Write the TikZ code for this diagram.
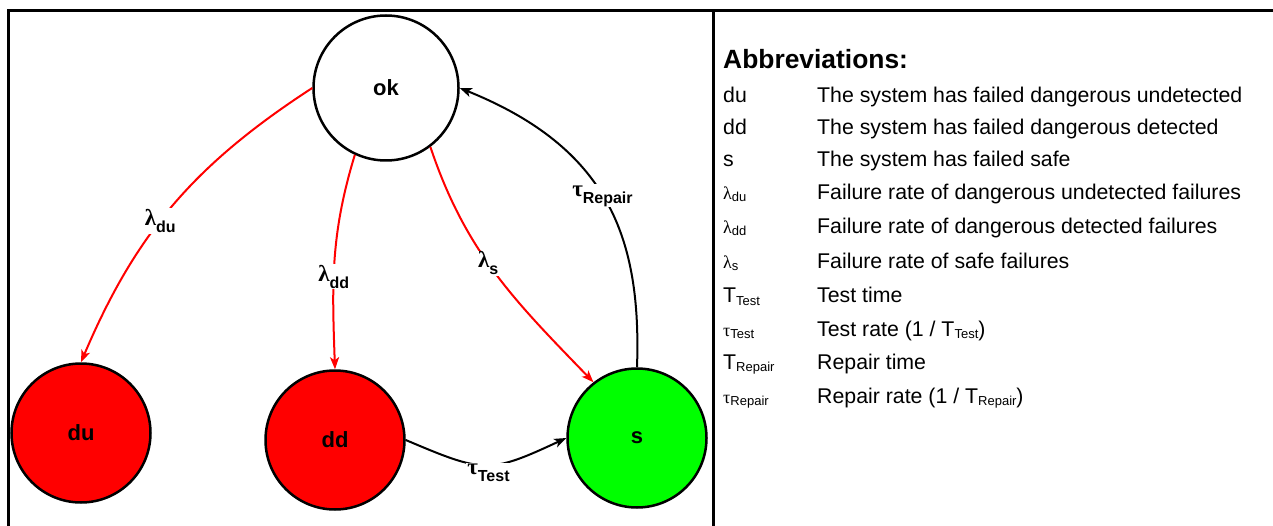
\documentclass[tikz,border=0pt]{standalone}
\usepackage{fontspec}
\setmainfont{Liberation Sans}
\newfontfamily\greekface{Liberation Serif}
\usetikzlibrary{arrows.meta}

% rate label on an arc: bold Greek letter with a bold lowered index
\newcommand\ratelbl[2]{{\fontsize{23}{23}\selectfont\greekface\bfseries #1}\raisebox{-7pt}{\fontsize{16}{16}\selectfont\bfseries #2}}
% symbol in the abbreviation list
\newcommand\gsym[2]{{\fontsize{18}{18}\selectfont\greekface #1}\raisebox{-2pt}{\fontsize{13}{13}\selectfont #2}}
\newcommand\tsym[2]{#1\raisebox{-2pt}{\fontsize{13}{13}\selectfont #2}}

\tikzset{
  frameline/.style={line width=3pt},
  state/.style={circle, draw=black, line width=2.5pt, minimum size=139pt, inner sep=0pt,
                font=\fontsize{22}{22}\selectfont\bfseries},
  failarc/.style={draw=red, line width=2pt, -{Stealth[length=12pt,width=9pt,inset=3pt]}},
  repairarc/.style={draw=black, line width=2pt, -{Stealth[length=12pt,width=9pt,inset=3pt]}},
  ratetag/.style={fill=white, inner sep=1pt},
  abbr/.style={anchor=base west, inner sep=0pt, font=\fontsize{21.3}{21.3}\selectfont},
  heading/.style={anchor=base west, inner sep=0pt, font=\fontsize{26.4}{26.4}\selectfont\bfseries},
}

\begin{document}
\begin{tikzpicture}[x=1pt,y=1pt]
\useasboundingbox (0,0) rectangle (1273,-526);
\fill[white] (0,0) rectangle (1273,-526);

% table frame
\coordinate (fTL) at (7,-11);
\coordinate (fTR) at (1273,-11);
\coordinate (fLT) at (8,-11);
\coordinate (fBL) at (8,-526);
\coordinate (dTop) at (713,-11);
\coordinate (dBot) at (713,-526);
\draw[frameline] (fTL) -- (fTR);
\draw[frameline] (fLT) -- (fBL);
\draw[frameline] (dTop) -- (dBot);

% states
\node[state, fill=white, minimum size=145pt] (ok) at (386,-88) {ok};
\node[state, fill=red] (du) at (81,-433) {du};
\node[state, fill=red] (dd) at (335,-440) {dd};
\node[state, fill=green] (s) at (637,-438) {s};

% failure transitions
\draw[failarc] (ok.west) to[out=213,in=67]
  node[ratetag, pos=0.56] {\ratelbl{λ}{du}} (du.north);
\draw[failarc] (ok.245) to[out=253,in=92]
  node[ratetag, pos=0.58] {\ratelbl{λ}{dd}} (dd.north);
\draw[failarc] (ok.307.5) to[out=288.5,in=134]
  node[ratetag, pos=0.45] {\ratelbl{λ}{s}} (s.128);

% test and repair transitions
\draw[repairarc] (dd.east) .. controls +(337:85) and +(205:85) ..
  node[ratetag, pos=0.5, xshift=2pt, yshift=-8pt] {\ratelbl{τ}{Test}} (s.west);
\draw[repairarc] (s.north) .. controls +(88:130) and +(338:160) ..
  node[ratetag, pos=0.52] {\ratelbl{τ}{Repair}} (ok.east);

% abbreviations
\node[heading] (hdr) at (723,-69) {Abbreviations:};
\node[abbr] (k1)  at (723,-103) {du};
\node[abbr] (k2)  at (723,-135) {dd};
\node[abbr] (k3)  at (723,-166.5) {s};
\node[abbr] (k4)  at (723,-200) {\gsym{λ}{du}};
\node[abbr] (k5)  at (723,-234) {\gsym{λ}{dd}};
\node[abbr] (k6)  at (723,-269) {\gsym{λ}{s}};
\node[abbr] (k7)  at (723,-303) {\tsym{T}{Test}};
\node[abbr] (k8)  at (723,-336) {\gsym{τ}{Test}};
\node[abbr] (k9)  at (723,-369.5) {\tsym{T}{Repair}};
\node[abbr] (k10) at (723,-403) {\gsym{τ}{Repair}};

\node[abbr] (d1)  at (817,-103) {The system has failed dangerous undetected};
\node[abbr] (d2)  at (817,-135) {The system has failed dangerous detected};
\node[abbr] (d3)  at (817,-166.5) {The system has failed safe};
\node[abbr] (d4)  at (817,-200) {Failure rate of dangerous undetected failures};
\node[abbr] (d5)  at (817,-234) {Failure rate of dangerous detected failures};
\node[abbr] (d6)  at (817,-269) {Failure rate of safe failures};
\node[abbr] (d7)  at (817,-303) {Test time};
\node[abbr] (d8)  at (817,-336) {Test rate (1 / \tsym{T}{Test})};
\node[abbr] (d9)  at (817,-369.5) {Repair time};
\node[abbr] (d10) at (817,-403) {Repair rate (1 / \tsym{T}{Repair})};
\end{tikzpicture}
\end{document}
